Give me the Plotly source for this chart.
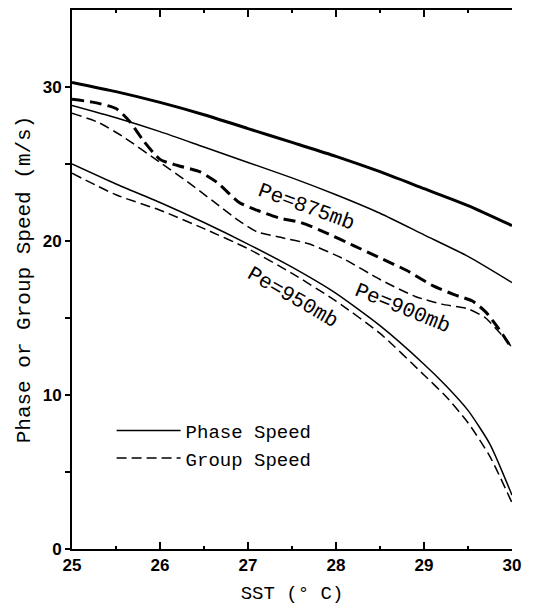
import plotly.graph_objects as go

# SST (deg C) sample points and speeds (m/s)
sst_875_phase = [25.0, 25.5, 26.0, 26.5, 27.0, 27.5, 28.0, 28.5, 29.0, 29.5, 30.0]
c_875_phase = [30.3, 29.7, 29.0, 28.2, 27.3, 26.4, 25.5, 24.5, 23.4, 22.3, 21.0]

sst_900_phase = [25.0, 25.5, 26.0, 26.5, 27.0, 27.5, 28.0, 28.5, 29.0, 29.5, 30.0]
c_900_phase = [28.8, 28.0, 27.1, 26.1, 25.1, 24.1, 23.0, 21.8, 20.4, 19.0, 17.3]

sst_875_group = [25.0, 25.25, 25.5, 25.65, 25.8, 26.0, 26.2, 26.45, 26.65, 26.9, 27.1,
                 27.35, 27.6, 27.9, 28.2, 28.5, 28.8, 29.1, 29.35, 29.55, 29.7, 29.85, 30.0]
c_875_group = [29.2, 29.0, 28.6, 27.8, 26.6, 25.3, 24.9, 24.5, 23.8, 22.5, 22.0,
               21.5, 21.2, 20.5, 19.7, 18.9, 18.1, 17.1, 16.5, 16.1, 15.4, 14.3, 13.0]

sst_900_group = [25.0, 25.3, 25.6, 26.0, 26.3, 26.6, 26.9, 27.1, 27.4, 27.7, 28.1,
                 28.5, 28.9, 29.2, 29.5, 29.7, 29.85, 30.0]
c_900_group = [28.3, 27.7, 26.7, 25.1, 23.9, 22.6, 21.3, 20.6, 20.2, 19.8, 18.8,
               17.5, 16.4, 15.9, 15.6, 15.0, 14.1, 13.1]

sst_950 = [25.0, 25.5, 26.0, 26.5, 27.0, 27.5, 28.0, 28.5, 29.0, 29.25, 29.5, 29.75, 30.0]
c_950_phase = [25.0, 23.7, 22.5, 21.2, 19.8, 18.3, 16.6, 14.5, 12.0, 10.6, 9.0, 6.8, 3.5]
c_950_group = [24.4, 23.0, 22.0, 20.8, 19.5, 17.9, 16.1, 14.0, 11.3, 9.9, 8.2, 6.0, 3.0]

x_ticks = [25, 26, 27, 28, 29, 30]
y_ticks = [0, 5, 10, 15, 20, 25, 30]
y_ticktext = ["0", "", "10", "", "20", "", "30"]

labels = [("Pe=875mb", 27.67, 22.2, 20), ("Pe=900mb", 28.75, 15.6, 22), ("Pe=950mb", 27.5, 16.3, 30)]

TXT = "Liberation Mono"
fig = go.Figure()

def add(x, y, width, dash, name=None, show=False, group=None):
    fig.add_trace(go.Scatter(x=x, y=y, mode="lines", name=name, showlegend=show,
                             legendgroup=group,
                             line=dict(color="black", width=width, dash=dash,
                                       shape="spline", smoothing=0.6)))

add(sst_875_phase, c_875_phase, 3, "solid")
add(sst_900_phase, c_900_phase, 1.5, "solid")
add(sst_875_group, c_875_group, 3, "12px,6px")
add(sst_900_group, c_900_group, 1.5, "10px,5px")
add(sst_950, c_950_phase, 1.5, "solid", "Phase Speed", True, "a")
add(sst_950, c_950_group, 1.5, "10px,5px", "Group Speed", True, "b")

for text, x, y, ang in labels:
    fig.add_annotation(x=x, y=y, text=text, showarrow=False, textangle=ang,
                       font=dict(family=TXT, size=21, color="black"))

# the page body adds an 8px margin; the figure is sized so the plot lands where the reference has it
fig.update_layout(
    width=537, height=597,
    margin=dict(l=64, r=33, t=0, b=56),
    paper_bgcolor="white", plot_bgcolor="white",
    legend=dict(x=0.09, y=0.255, xanchor="left", yanchor="top",
                font=dict(family=TXT, size=19, color="black"),
                bgcolor="rgba(0,0,0,0)", itemwidth=64, tracegroupgap=0),
    xaxis=dict(range=[25, 30], tickvals=x_ticks, ticks="inside", ticklen=7,
               tickwidth=1.5, tickcolor="black",
               minor=dict(dtick=0.5, ticks="inside", ticklen=3, tickcolor="black"),
               showline=True, linewidth=2, linecolor="black", mirror="ticks",
               showgrid=False, zeroline=False,
               tickfont=dict(family="Liberation Sans", size=17, color="black", weight="bold"),
               title=dict(text="SST (° C)", font=dict(family=TXT, size=19, color="black"),
                          standoff=11)),
    yaxis=dict(range=[0, 35], tickvals=y_ticks, ticktext=y_ticktext, ticks="outside",
               ticklen=5, tickwidth=1.5, tickcolor="black",
               showline=True, linewidth=2, linecolor="black",
               showgrid=False, zeroline=False,
               tickfont=dict(family="Liberation Sans", size=17, color="black", weight="bold"),
               title=dict(text="Phase or Group Speed (m/s)",
                          font=dict(family=TXT, size=21, color="black"), standoff=6)),
    yaxis2=dict(range=[0, 35], overlaying="y", side="right", tickvals=y_ticks,
                showticklabels=False, ticks="inside", ticklen=7, tickwidth=1.5,
                tickcolor="black", showline=True, linewidth=2, linecolor="black",
                showgrid=False, zeroline=False),
)

fig.write_html("out.html")
